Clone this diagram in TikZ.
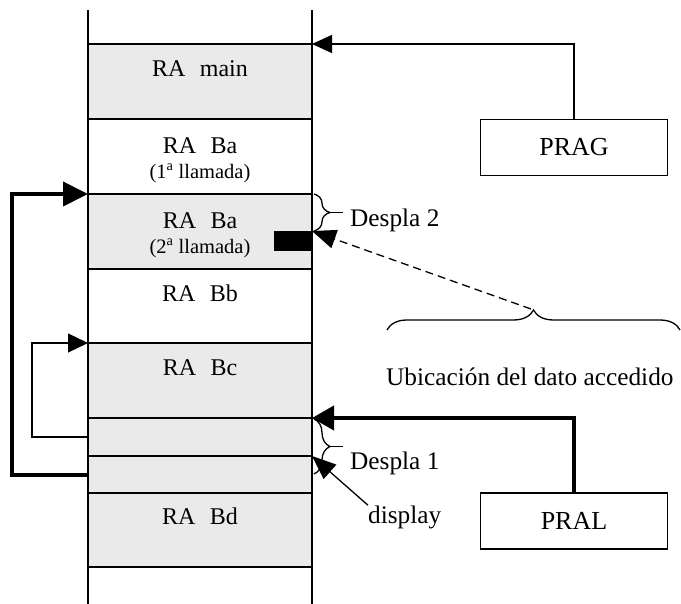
\documentclass[tikz,border=0pt]{standalone}
\usepackage{fontspec}
\setmainfont{Liberation Serif}
\usetikzlibrary{arrows.meta,decorations.pathreplacing,calc}
\definecolor{shade}{RGB}{234,234,234}
\begin{document}
\begin{tikzpicture}[x=1pt,y=-1pt,
  frame/.style={draw, line width=1.3pt, minimum width=224pt, inner sep=0pt, outer sep=0pt, anchor=north west},
  lab/.style={font=\fontsize{24}{26}\selectfont, anchor=base, inner sep=0pt},
  small/.style={font=\fontsize{20.5}{22}\selectfont, anchor=base, inner sep=0pt},
  side/.style={font=\fontsize{25.3}{27}\selectfont, anchor=base west, inner sep=0pt},
  regbox/.style={draw, line width=1.3pt, minimum width=187pt, minimum height=56pt, inner sep=0pt, outer sep=0pt, font=\fontsize{26}{28}\selectfont},
  thinline/.style={line width=1.3pt},
  thickline/.style={line width=4pt, line join=miter},
  tipS/.style={-{Triangle[length=20pt,width=19pt]}},
  tipM/.style={-{Triangle[length=20pt,width=18pt]}},
  tipL/.style={-{Triangle[length=25pt,width=24pt]}},
  tipP/.style={-{Triangle[length=22pt,width=24pt]}},
  tipD/.style={-{Triangle[length=24pt,width=19pt]}},
  bracestyle/.style={line width=1.3pt, decorate, decoration={brace, amplitude=#1}},
]
\useasboundingbox (0,0) rectangle (681,604);

% stack frames
\node[frame, fill=shade, minimum height=75pt] (main) at (88,44) {};
\node[frame, fill=white, minimum height=75pt] (ba1) at (88,119) {};
\node[frame, fill=shade, minimum height=75pt] (ba2) at (88,194) {};
\node[frame, fill=white, minimum height=74pt] (bb) at (88,269) {};
\node[frame, fill=shade, minimum height=75pt] (bc) at (88,343) {};
\node[frame, fill=shade, minimum height=38pt] (s1) at (88,418) {};
\node[frame, fill=shade, minimum height=37pt] (s2) at (88,456) {};
\node[frame, fill=shade, minimum height=74pt] (bd) at (88,493) {};

% walls
\coordinate (wl1) at (88,10); \coordinate (wl2) at (88,604);
\coordinate (wr1) at (312,10); \coordinate (wr2) at (312,604);
\draw[thinline] (wl1) -- (wl2);
\draw[thinline] (wr1) -- (wr2);

% frame labels
\node[lab] (tmain) at (200,77) {RA\hspace{0.6em}main};
\node[lab] (tba1) at (200,153.5) {RA\hspace{0.6em}Ba};
\node[small] (tba1s) at (200,178.5) {(1\textsuperscript{a} llamada)};
\node[lab] (tba2) at (200,228.5) {RA\hspace{0.6em}Ba};
\node[small] (tba2s) at (200,253.5) {(2\textsuperscript{a} llamada)};
\node[lab] (tbb) at (200,302) {RA\hspace{0.6em}Bb};
\node[lab] (tbc) at (200,376) {RA\hspace{0.6em}Bc};
\node[lab] (tbd) at (200,524) {RA\hspace{0.6em}Bd};

% accessed datum
\node[fill=black, minimum width=38pt, minimum height=20pt, inner sep=0pt, outer sep=0pt, anchor=north east] (blk) at (312,231) {};

% registers
\node[regbox] (prag) at (574,147.5) {PRAG};
\node[regbox] (pral) at (574,521) {PRAL};

\draw[thinline, tipM] (prag.north) |- (main.north east);
\draw[thickline, tipP] (pral.north) |- (s1.north east);

% static / dynamic links
\coordinate (kthick) at (12,0);
\coordinate (kthin) at (32,0);
\draw[thickline, tipL] (s2.west) -- (s2.west -| kthick) |- (ba2.north west);
\draw[thinline, tipS] (s1.west) -- (s1.west -| kthin) |- (bc.north west);

% braces and side labels
\draw[bracestyle=16pt] (314,194) -- (314,231);
\coordinate (d2tip) at (330,212.5);
\coordinate (d2end) at (343,212.5);
\draw[thinline] (d2tip) -- (d2end);
\node[side] (desp2) at (350,227) {Despla 2};

\draw[bracestyle=16pt] (314,419) -- (314,474);
\coordinate (d1tip) at (330,446.5);
\coordinate (d1end) at (343,446.5);
\draw[thinline] (d1tip) -- (d1end);
\node[side] (desp1) at (350,469) {Despla 1};

\draw[bracestyle=20pt] (387,330) -- (680,330);
\coordinate (ubtip) at (531,309);
\node[side] (ubic) at (386,386) {Ubicación del dato accedido};
\draw[thinline, dash pattern=on 8pt off 5pt, tipD] (ubtip) -- (blk.north east);

\node[side] (disp) at (368,523) {display};
\draw[thinline, tipD] (disp.north west) -- (s2.north east);
\end{tikzpicture}
\end{document}
